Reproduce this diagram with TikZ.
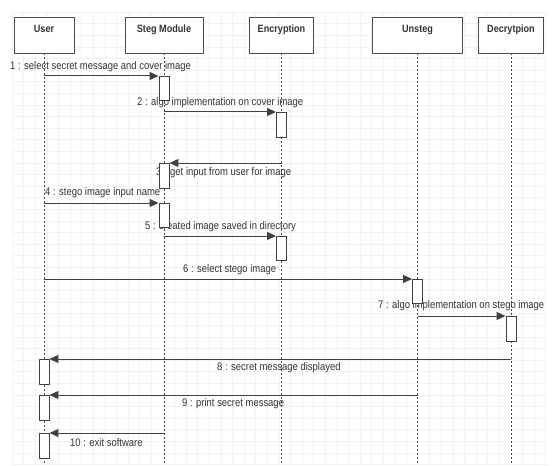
\documentclass[tikz,border=0pt]{standalone}
\usepackage{fontspec}
\setmainfont{Liberation Sans}
\newfontfamily\narrowsans[FakeStretch=0.86]{Liberation Sans}
\usepackage{tikz}
\usetikzlibrary{arrows.meta,positioning}

\begin{document}
\begin{tikzpicture}[
      x=1pt, y=-1pt,
      >={Triangle[length=9pt,width=8pt]},
      head/.style={draw=black!70, line width=0.9pt, fill=white, minimum height=36pt, inner sep=0pt, text height=16pt, text depth=20pt, font=\narrowsans\fontsize{10.6}{12}\selectfont\bfseries, text=black!80},
      lifeline/.style={draw=black!70, line width=0.9pt, dash pattern=on 2pt off 2pt},
      actbox/.style={draw=black!75, line width=0.9pt, fill=white, minimum width=10pt, minimum height=25pt, inner sep=0pt, anchor=north},
      msg/.style={draw=black!75, line width=1pt, ->},
      lbl/.style={anchor=west, inner sep=0pt, font=\narrowsans\fontsize{11}{12}\selectfont, text=black!80},
      gridline/.style={draw=black!5, line width=0.5pt}
    ]
    \useasboundingbox (0,0) rectangle (553,465);
    \fill[white] (0,0) rectangle (553,465);
    % background grid
    \foreach \gx in {12,23.6,...,548} \draw[gridline] (\gx,12) -- (\gx,465);
    \foreach \gy in {12,23.6,...,465} \draw[gridline] (12,\gy) -- (548,\gy);

    % lifeline heads
    \node[head, minimum width=60pt] (user) at (44,35) {User};
    \node[head, minimum width=78pt] (steg) at (164,35) {Steg Module};
    \node[head, minimum width=64pt] (enc) at (281.5,35) {Encryption};
    \node[head, minimum width=90pt] (unsteg) at (417.5,35) {Unsteg};
    \node[head, minimum width=65pt] (dec) at (511,35) {Decrytpion};

    \coordinate (userend) at (44,465);
    \coordinate (stegend) at (164,465);
    \coordinate (encend) at (281.5,465);
    \coordinate (unstegend) at (417.5,465);
    \coordinate (decend) at (511,465);
    \draw[lifeline] (user) -- (userend);
    \draw[lifeline] (steg) -- (stegend);
    \draw[lifeline] (enc) -- (encend);
    \draw[lifeline] (unsteg) -- (unstegend);
    \draw[lifeline] (dec) -- (decend);

    % labels
    \node[lbl] (l1) at (10,67) {1 : select secret message and cover image};
    \node[lbl] (l2) at (137,103) {2 : algo implementation on cover image};
    \node[lbl] (l3) at (156,173) {3 : get input from user for image};
    \node[lbl] (l4) at (45,193) {4 : stego image input name};
    \node[lbl] (l5) at (145,227) {5 : created image saved in directory};
    \node[lbl] (l6) at (183,270) {6 : select stego image};
    \node[lbl] (l7) at (378,306) {7 : algo implementation on stego image};
    \node[lbl] (l8) at (217,368) {8 : secret message displayed};
    \node[lbl] (l9) at (182,404) {9 : print secret message};
    \node[lbl] (l10) at (70,443) {10 : exit software};

    % activations
    \node[actbox, minimum height=24pt] (a1) at (164,76) {};
    \node[actbox] (a2) at (281.5,112) {};
    \node[actbox] (a3) at (164,163) {};
    \node[actbox, minimum height=24pt] (a4) at (164,203) {};
    \node[actbox, minimum height=24pt] (a5) at (281.5,236) {};
    \node[actbox, minimum height=24pt] (a6) at (417.5,279) {};
    \node[actbox] (a7) at (511,316) {};
    \node[actbox] (a8) at (44,359) {};
    \node[actbox] (a9) at (44,395) {};
    \node[actbox] (a10) at (44,433) {};

    % messages
    \draw[msg] (user |- a1.north) -- (a1.north west);
    \draw[msg] (steg |- a2.north) -- (a2.north west);
    \draw[msg] (enc |- a3.north) -- (a3.north east);
    \draw[msg] (user |- a4.north) -- (a4.north west);
    \draw[msg] (steg |- a5.north) -- (a5.north west);
    \draw[msg] (user |- a6.north) -- (a6.north west);
    \draw[msg] (unsteg |- a7.north) -- (a7.north west);
    \draw[msg] (dec |- a8.north) -- (a8.north east);
    \draw[msg] (unsteg |- a9.north) -- (a9.north east);
    \draw[msg] (steg |- a10.north) -- (a10.north east);
  \end{tikzpicture}
\end{document}
